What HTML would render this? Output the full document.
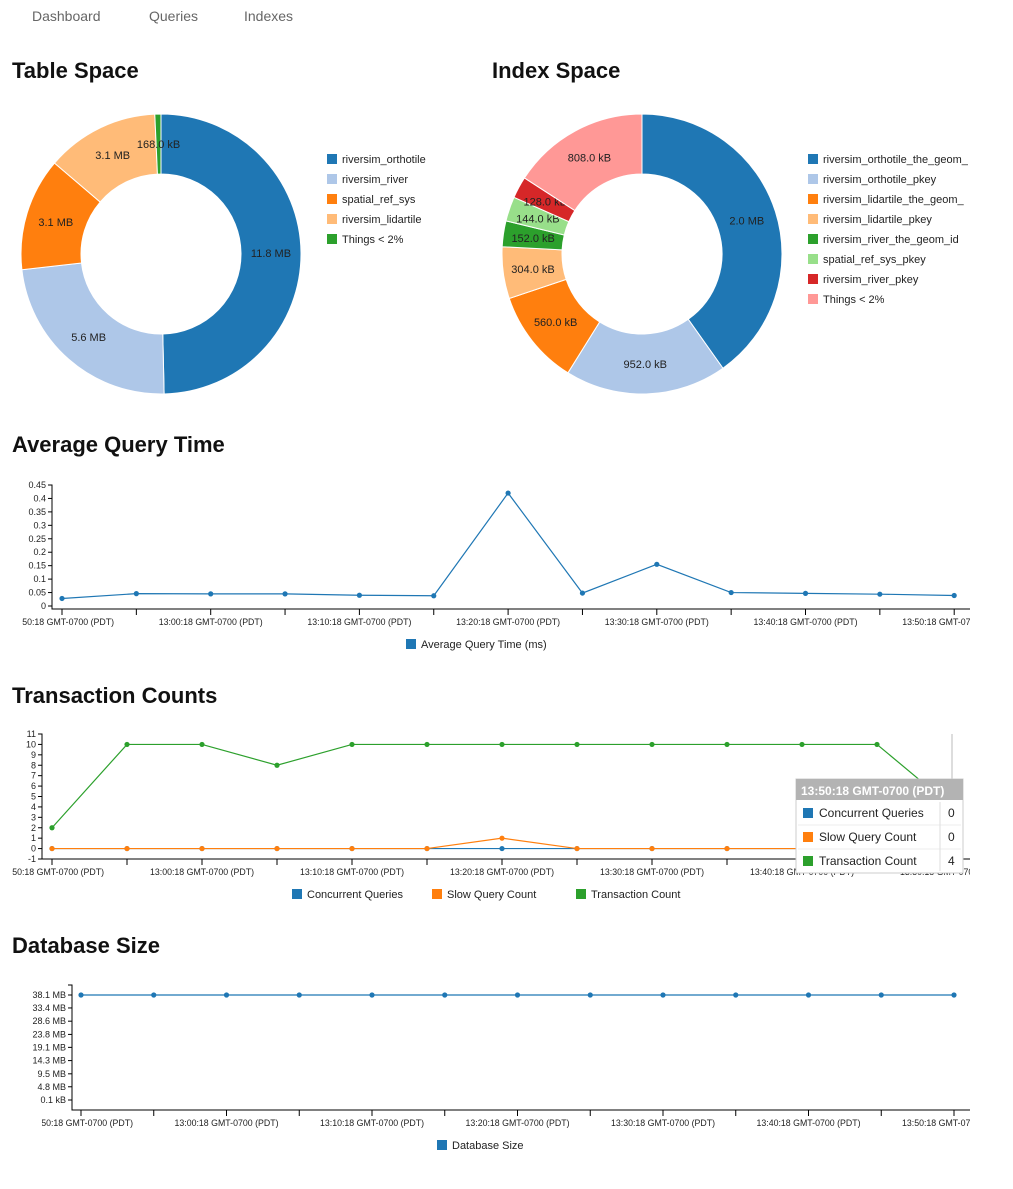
<!DOCTYPE html>
<html><head><meta charset="utf-8"><style>
body{margin:0;background:#fff;width:1013px;height:1189px;overflow:hidden;font-family:"Liberation Sans",sans-serif}
svg{display:block}
text{font-family:"Liberation Sans",sans-serif;fill:#222}
.t{font-size:22px;font-weight:bold;fill:#111}
.nav{font-size:14px;fill:#666}
.tk{font-size:9px}
.lg{font-size:11px}
</style></head><body>
<svg id="s" width="1013" height="1189">
<defs>
<clipPath id="cx-avg-query"><rect x="22" y="0" width="948" height="1189"/></clipPath>
<clipPath id="cx-transactions"><rect x="12" y="0" width="958" height="1189"/></clipPath>
<clipPath id="cx-db-size"><rect x="42" y="0" width="928" height="1189"/></clipPath>
</defs>
<text class="nav" x="32" y="21">Dashboard</text>
<text class="nav" x="149" y="21">Queries</text>
<text class="nav" x="244" y="21">Indexes</text>
<text class="t" x="12" y="78">Table Space</text>
<text class="t" x="492" y="78">Index Space</text>
<text class="t" x="12" y="452">Average Query Time</text>
<text class="t" x="12" y="703">Transaction Counts</text>
<text class="t" x="12" y="953">Database Size</text>
<g id="g"></g>
</svg>
<script>
// ---- data ----
const tableNames=["riversim_orthotile","riversim_river","spatial_ref_sys","riversim_lidartile","Things < 2%"];
const tableValues=[11.8,5.6,3.1,3.1,0.168];
const tableLabels=["11.8 MB","5.6 MB","3.1 MB","3.1 MB","168.0 kB"];
const indexNames=["riversim_orthotile_the_geom_","riversim_orthotile_pkey","riversim_lidartile_the_geom_","riversim_lidartile_pkey","riversim_river_the_geom_id","spatial_ref_sys_pkey","riversim_river_pkey","Things < 2%"];
const indexValues=[2048,952,560,304,152,144,128,808];
const indexLabels=["2.0 MB","952.0 kB","560.0 kB","304.0 kB","152.0 kB","144.0 kB","128.0 kB","808.0 kB"];
const pieColors=["#1f77b4","#aec7e8","#ff7f0e","#ffbb78","#2ca02c","#98df8a","#d62728","#ff9896"];
const tableColors=["#1f77b4","#aec7e8","#ff7f0e","#ffbb78","#2ca02c"];
const timeLabels=["12:50:18 GMT-0700 (PDT)","13:00:18 GMT-0700 (PDT)","13:10:18 GMT-0700 (PDT)","13:20:18 GMT-0700 (PDT)","13:30:18 GMT-0700 (PDT)","13:40:18 GMT-0700 (PDT)","13:50:18 GMT-0700 (PDT)"];
const avgQuery=[0.028,0.046,0.045,0.045,0.040,0.038,0.42,0.048,0.155,0.050,0.047,0.044,0.039];
const avgTicks=[0,0.05,0.1,0.15,0.2,0.25,0.3,0.35,0.4,0.45];
const concurrent=[0,0,0,0,0,0,0,0,0,0,0,0,0];
const slowCount=[0,0,0,0,0,0,1,0,0,0,0,0,0];
const txCount=[2,10,10,8,10,10,10,10,10,10,10,10,4];
const txTicks=[-1,0,1,2,3,4,5,6,7,8,9,10,11];
const dbSize=[38.1,38.1,38.1,38.1,38.1,38.1,38.1,38.1,38.1,38.1,38.1,38.1,38.1];
const dbTicks=[0.0001,4.8,9.5,14.3,19.1,23.8,28.6,33.4,38.1];
const dbTickLabels=["0.1 kB","4.8 MB","9.5 MB","14.3 MB","19.1 MB","23.8 MB","28.6 MB","33.4 MB","38.1 MB"];

const NS="http://www.w3.org/2000/svg";
const G=document.getElementById('g');
function el(tag,attrs,parent){const e=document.createElementNS(NS,tag);for(const k in attrs)e.setAttribute(k,attrs[k]);(parent||G).appendChild(e);return e;}

function pie(cx,cy,R,r,vals,labels,colors,names,lx,name){
  const tot=vals.reduce((a,b)=>a+b,0);let a0=0;
  vals.forEach((v,i)=>{
    const a1=a0+v/tot*2*Math.PI;
    const p=(a,rad)=>[cx+rad*Math.sin(a),cy-rad*Math.cos(a)];
    const big=(a1-a0)>Math.PI?1:0;
    const [x0,y0]=p(a0,R),[x1,y1]=p(a1,R),[x2,y2]=p(a1,r),[x3,y3]=p(a0,r);
    const s=el('path',{d:`M${x0},${y0}A${R},${R} 0 ${big} 1 ${x1},${y1}L${x2},${y2}A${r},${r} 0 ${big} 0 ${x3},${y3}Z`,fill:colors[i],stroke:'#fff','stroke-width':1});
    
    
    const am=(a0+a1)/2,[tx,ty]=p(am,(R+r)/2);
    const t=el('text',{x:tx,y:ty+4,'text-anchor':'middle',class:'lg'});t.textContent=labels[i];
    
    
    a0=a1;
    const ly=159+i*20;
    const sq=el('rect',{x:lx,y:ly-5,width:10,height:10,fill:colors[i]});
    
    
    const lt=el('text',{x:lx+15,y:ly+4,class:'lg'});lt.textContent=names[i];
    
    
  });
}
pie(161,254,140,80,tableValues,tableLabels,tableColors,tableNames,327,'table-space');
pie(642,254,140,80,indexValues,indexLabels,pieColors,indexNames,808,'index-space');

function lineChart(o){
  const xs=i=>o.x0+i*o.dx;
  const ys=v=>o.yb-(v-o.vmin)/(o.vmax-o.vmin)*(o.yb-o.yt);
  const ax=el('path',{d:`M${o.ax-4},${o.axTop}H${o.ax}V${o.axBot}H970`,fill:'none',stroke:'#000','stroke-width':1});
  
  
  o.ticks.forEach((v,i)=>{
    const y=ys(v);el('line',{x1:o.ax-4,x2:o.ax,y1:y,y2:y,stroke:'#000'});
    const t=el('text',{x:o.ax-6,y:y+3,'text-anchor':'end',class:'tk'});t.textContent=o.tickLabels[i];
    
    
  });
  for(let i=0;i<o.n;i++){
    el('line',{x1:xs(i),x2:xs(i),y1:o.axBot,y2:o.axBot+6,stroke:'#000'});
    if(i%2==0){const t=el('text',{x:xs(i),y:o.axBot+16,'text-anchor':'middle',class:'tk',textLength:104,lengthAdjust:'spacingAndGlyphs','clip-path':'url(#cx-'+o.name+')'});
      t.textContent=timeLabels[i/2];
      
      }
  }
  o.series.forEach((s,k)=>{
    const d=s.vals.map((v,i)=>(i?'L':'M')+xs(i)+','+ys(v)).join('');
    const p=el('path',{d,fill:'none',stroke:s.c,'stroke-width':1.2});
    
    
    s.vals.forEach((v,i)=>{const c=el('circle',{cx:xs(i),cy:ys(v),r:2.6,fill:s.c});
      
      });
  });
  let lx=o.legX;
  o.series.forEach((s,k)=>{
    const r=el('rect',{x:lx,y:o.legY-5,width:10,height:10,fill:s.c});
    
    
    const t=el('text',{x:lx+15,y:o.legY+4,class:'lg'});t.textContent=s.n;
    
    
    lx+=o.legStep[k]||0;
  });
}
lineChart({name:'avg-query',n:13,x0:62,dx:74.35,ax:52,axTop:485,axBot:609,yb:606,yt:485,vmin:0,vmax:0.45,ticks:avgTicks,tickLabels:avgTicks.map(String),
  series:[{vals:avgQuery,c:'#1f77b4',n:'Average Query Time (ms)'}],legX:406,legY:644,legStep:[]});
lineChart({name:'transactions',n:13,x0:52,dx:75,ax:42,axTop:734,axBot:859,yb:859,yt:734,vmin:-1,vmax:11,ticks:txTicks,tickLabels:txTicks.map(String),
  series:[{vals:concurrent,c:'#1f77b4',n:'Concurrent Queries'},{vals:slowCount,c:'#ff7f0e',n:'Slow Query Count'},{vals:txCount,c:'#2ca02c',n:'Transaction Count'}],legX:292,legY:894,legStep:[140,144]});
lineChart({name:'db-size',n:13,x0:81,dx:72.75,ax:72,axTop:985,axBot:1110,yb:1100,yt:995,vmin:0.0001,vmax:38.1,ticks:dbTicks,tickLabels:dbTickLabels,
  series:[{vals:dbSize,c:'#1f77b4',n:'Database Size'}],legX:437,legY:1145,legStep:[]});

// hover line + tooltip
const hl=el('line',{x1:952,x2:952,y1:734,y2:850,stroke:'#bbb'});


const tg=el('g',{});


el('rect',{x:796,y:779,width:167,height:94,fill:'#fff',stroke:'#ccc'},tg);
el('rect',{x:796,y:779,width:167,height:21,fill:'#b3b3b3'},tg);
const th=el('text',{x:801,y:795,style:'font-size:12px;font-weight:bold;fill:#fff'},tg);th.textContent='13:50:18 GMT-0700 (PDT)';
const ttNames=['Concurrent Queries','Slow Query Count','Transaction Count'],ttVals=[0,0,4],ttC=['#1f77b4','#ff7f0e','#2ca02c'];
ttNames.forEach((n,i)=>{const y=813+i*24;
  el('rect',{x:803,y:y-5,width:10,height:10,fill:ttC[i]},tg);
  const a=el('text',{x:819,y:y+4,style:'font-size:12px'},tg);a.textContent=n;
  const b=el('text',{x:948,y:y+4,style:'font-size:12px'},tg);b.textContent=ttVals[i];
  if(i<2)el('line',{x1:798,x2:961,y1:y+12,y2:y+12,stroke:'#eee'},tg);});
el('line',{x1:940,x2:940,y1:802,y2:871,stroke:'#ddd'},tg);
</script>
</body></html>
